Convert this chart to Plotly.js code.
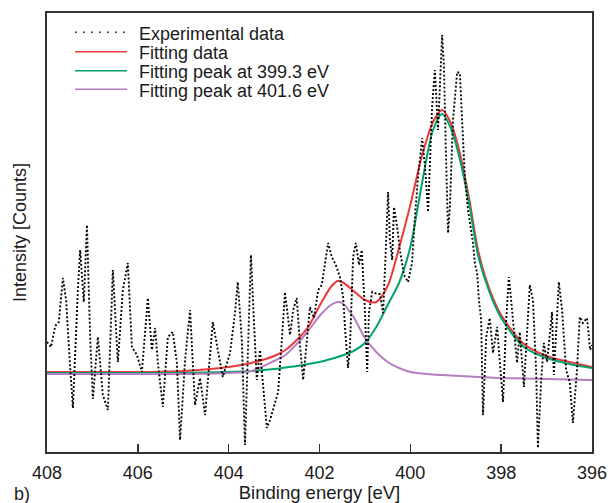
<!DOCTYPE html>
<html>
<head>
<meta charset="utf-8">
<script src="https://cdn.plot.ly/plotly-3.0.1.min.js"></script>
<style>
  html, body { margin: 0; padding: 0; background: #fff; }
  #chart { width: 608px; height: 503px; }
</style>
</head>
<body>
<div id="chart"></div>
<script>
// ---- Experimental data (binding energy in eV, intensity in arbitrary counts) ----
const expEnergy = [
  408.00, 407.91, 407.82, 407.74, 407.65, 407.58, 407.49, 407.43, 407.32, 407.27,
  407.19, 407.12, 407.05, 406.99, 406.88, 406.77, 406.66, 406.55, 406.44, 406.33,
  406.22, 406.13, 406.02, 405.91, 405.78, 405.69, 405.62, 405.56, 405.45, 405.34,
  405.23, 405.14, 405.07, 404.96, 404.85, 404.74, 404.63, 404.52, 404.35, 404.24,
  404.13, 403.97, 403.86, 403.80, 403.71, 403.64, 403.57, 403.51, 403.44, 403.38,
  403.31, 403.22, 403.16, 403.09, 402.91, 402.83, 402.76, 402.65, 402.58, 402.50,
  402.43, 402.36, 402.28, 402.21, 402.12, 402.03, 401.95, 401.81, 401.73, 401.64,
  401.55, 401.48, 401.44, 401.37, 401.33, 401.26, 401.20, 401.13, 401.07, 401.00,
  400.95, 400.91, 400.84, 400.73, 400.67, 400.60, 400.54, 400.49, 400.45, 400.40,
  400.36, 400.29, 400.23, 400.14, 400.05, 399.96, 399.90, 399.83, 399.74, 399.68,
  399.61, 399.52, 399.46, 399.39, 399.30, 399.26, 399.22, 399.17, 399.13, 399.06,
  398.97, 398.91, 398.86, 398.80, 398.73, 398.62, 398.58, 398.53, 398.49, 398.44,
  398.40, 398.33, 398.25, 398.18, 398.09, 398.03, 397.96, 397.89, 397.83, 397.76,
  397.65, 397.59, 397.50, 397.43, 397.37, 397.30, 397.23, 397.19, 397.12, 397.06,
  396.99, 396.88, 396.84, 396.73, 396.66, 396.57, 396.49, 396.42, 396.33, 396.27,
  396.20, 396.11, 396.04, 396.00
];
const expCounts = [
  110, 105, 126, 130, 174, 152,  85,  44, 162, 202,
  150, 227, 115,  53, 115,  57,  42, 182,  90, 162,
  189, 105,  97,  80, 154, 102, 124,  90,  45, 115,
  120,  89,  12,  92, 142,  47,  74,  37, 130, 102,
   75,  99, 139, 170, 112,   7, 122, 197, 127,  72,
  102,  52,  24,  32,  60, 112, 160, 117, 142, 154,
  107,  72, 112, 145, 134, 162, 167, 209, 195, 187,
  175, 155, 125,  84, 105, 195, 209, 187, 202, 142,
   80, 140, 160, 158, 158, 139, 202, 260, 212, 192,
  245, 225, 202, 177, 170, 190, 235, 275, 314, 287,
  240, 345, 382, 322, 417, 385, 305, 219, 245, 332,
  380, 379, 332, 275, 242, 209, 189, 179, 152, 132,
   37, 115, 134,  99, 125,  92,  50, 132, 175, 142,
   89, 120,  65, 119, 167, 152,  82,   4,  72, 109,
   90, 140,  77, 170, 142,  82,  70,  29,  82, 135,
  129, 134, 102, 107
];

// ---- Fitted curves (read at these energies) ----
const fitEnergy = [
  408, 407, 406, 405, 404, 403.5, 403, 402.75, 402.5, 402.25,
  402, 401.75, 401.6, 401.5, 401.25, 401, 400.75, 400.5, 400.25, 400,
  399.75, 399.5, 399.3, 399.1, 398.9, 398.7, 398.5, 398.25, 398, 397.5,
  397, 396.5, 396
];
const fitTotal = [
   80,  80,  80,  81,  85,  89,  96, 102, 112, 125,
  146, 165, 171, 170, 161, 152, 150, 166, 204, 247,
  295, 330, 342, 328, 297, 252, 200, 162, 137, 108,
   96,  90,  85
];
const fitPeak1 = [
   79,  79,  79,  79,  80,  81,  83, 84.5, 86,  88,
   90,  93,  95, 96.5, 101, 109, 125, 147, 169, 205,
  267, 322, 338, 323, 291, 247, 195, 159, 134, 105,
   94,  88,  84
];
const fitPeak2 = [
   78,  78,  78,  78,  79,  81,  91,  97, 108, 121,
  136, 147, 150, 149, 135, 114, 100,  90,  84,  80,
  78.5, 77.5, 77, 76.5, 76, 75.5, 75, 74.5, 74, 73.5,
   73, 72.5, 72
];

const seriesNames = [
  "Experimental data",
  "Fitting data",
  "Fitting peak at 399.3 eV",
  "Fitting peak at 401.6 eV"
];
const xTicks = [408, 406, 404, 402, 400, 398, 396];

const colRed = "rgb(236,56,58)";
const colGreen = "rgb(0,163,104)";
const colPurple = "rgb(183,125,194)";
const colText = "#1a1a1a";
const FONT = "Liberation Sans, Arial, Helvetica, sans-serif";

const traces = [
  { x: fitEnergy, y: fitTotal, name: seriesNames[1], mode: "lines",
    line: { color: colRed, width: 2, shape: "spline", smoothing: 0.8 } },
  { x: fitEnergy, y: fitPeak1, name: seriesNames[2], mode: "lines",
    line: { color: colGreen, width: 2, shape: "spline", smoothing: 0.8 } },
  { x: fitEnergy, y: fitPeak2, name: seriesNames[3], mode: "lines",
    line: { color: colPurple, width: 2, shape: "spline", smoothing: 0.8 } },
  { x: expEnergy, y: expCounts, name: seriesNames[0], mode: "lines",
    line: { color: "#000", width: 1.9, dash: "1.9px,2.1px" } }
];

// manual legend (paper coordinates)
const plotL = 47, plotR = 592, plotT = 13, plotB = 452;
const px2x = p => (p - plotL) / (plotR - plotL);
const py2y = p => (plotB - p) / (plotB - plotT);
const legRowsLine = [32.3, 51.7, 70.7, 89.3];
const legRowsText = [33.5, 53, 72, 90.5];
const legStyles = [
  { color: "#111", width: 1.6, dash: "1.6px,6.4px" },
  { color: colRed, width: 1.6 },
  { color: colGreen, width: 1.6 },
  { color: colPurple, width: 1.6 }
];
const shapes = legRowsLine.map((r, i) => ({
  type: "line", xref: "paper", yref: "paper",
  x0: px2x(75), x1: px2x(127), y0: py2y(r), y1: py2y(r),
  line: legStyles[i]
}));
const annotations = legRowsText.map((r, i) => ({
  xref: "paper", yref: "paper", x: px2x(137), y: py2y(r),
  xanchor: "left", yanchor: "middle", showarrow: false,
  text: seriesNames[i], font: { family: FONT, size: 18, color: colText }
}));
annotations.push({
  xref: "paper", yref: "paper", x: px2x(12), y: py2y(494),
  xanchor: "left", yanchor: "middle", showarrow: false,
  text: "b)", font: { family: FONT, size: 18, color: colText }
});

const layout = {
  width: 608, height: 503,
  margin: { l: 47, r: 16, t: 13, b: 51, pad: 0 },
  paper_bgcolor: "#fff", plot_bgcolor: "#fff",
  showlegend: false,
  font: { family: FONT, size: 18, color: colText },
  xaxis: {
    range: [408, 396], autorange: false,
    tickvals: xTicks, ticktext: xTicks.map(String),
    ticks: "inside", ticklen: 8, tickwidth: 1.5, tickcolor: "#333",
    showline: true, linecolor: "#333", linewidth: 2, mirror: true,
    showgrid: false, zeroline: false,
    tickfont: { family: FONT, size: 18, color: colText },
    ticklabelstandoff: 3,
    title: { text: "Binding energy [eV]", font: { family: FONT, size: 18.5, color: colText }, standoff: 6 },
    automargin: false
  },
  yaxis: {
    range: [0, 439], autorange: false,
    showticklabels: false, ticks: "",
    showline: true, linecolor: "#333", linewidth: 2, mirror: true,
    showgrid: false, zeroline: false,
    title: { text: "Intensity [Counts]", font: { family: FONT, size: 18, color: colText }, standoff: 14 },
    automargin: false
  },
  shapes: shapes,
  annotations: annotations
};

Plotly.newPlot("chart", traces, layout, { displayModeBar: false, staticPlot: true });
</script>
</body>
</html>
